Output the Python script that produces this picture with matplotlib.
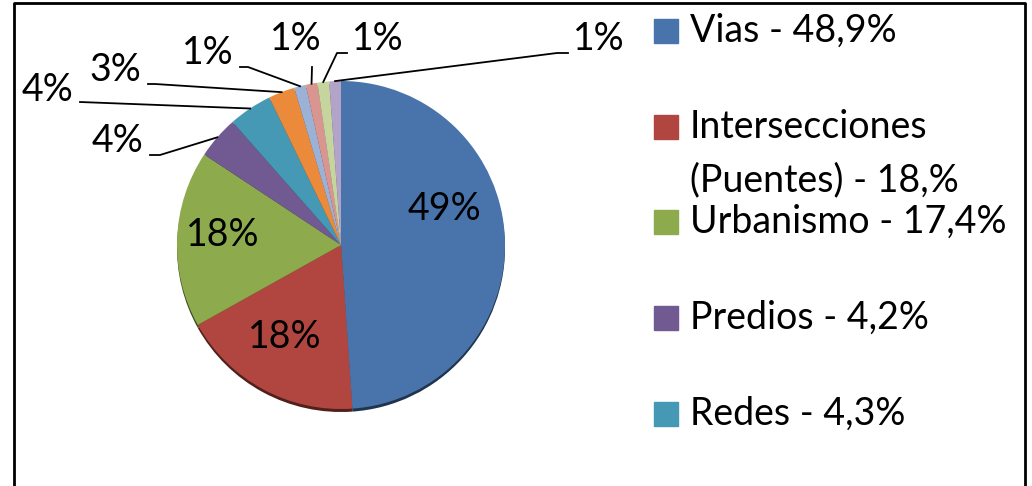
# grafico de torta - distribucion por componente
import numpy as np
import matplotlib.pyplot as plt
from matplotlib.colors import to_rgb

plt.rcParams['font.family'] = ['Lato', 'DejaVu Sans']

# datos
valores = [48.9, 18.0, 17.4, 4.2, 4.3, 2.6, 1.15, 1.15, 1.15, 1.15]
etiquetas = ['49%', '18%', '18%', '4%', '4%', '3%', '1%', '1%', '1%', '1%']
leyenda = ['Vias - 48,9%', 'Intersecciones\n(Puentes) - 18,%', 'Urbanismo - 17,4%',
           'Predios - 4,2%', 'Redes - 4,3%']
colores = ['#4874ab', '#b0463f', '#8dab4c', '#705a91', '#4599b4', '#ec8a3c',
           '#9bb1d6', '#d99590', '#c6d49e', '#b2a3c8']

H = 486
cx, cy, r = 341, 245, 164
fs = 27

fig = plt.figure(figsize=(10.32, 4.86), dpi=100)
ax = fig.add_axes([0, 0, 1, 1])

# borde oscuro abajo (efecto 3D)
oscuros = [tuple(c * 0.45 for c in to_rgb(col)) for col in colores]
ax.pie(valores, colors=oscuros, startangle=90, counterclock=False,
       center=(cx, H - cy - 3), radius=r, wedgeprops=dict(linewidth=0))
wedges, _ = ax.pie(valores, colors=colores, startangle=90, counterclock=False,
                   center=(cx, H - cy), radius=r, wedgeprops=dict(linewidth=0))

# etiquetas dentro
dentro = {0: (444, 209), 1: (285, 337), 2: (223, 235)}
for i, (x, y) in dentro.items():
    ax.text(x, H - y, etiquetas[i], ha='center', va='center', fontsize=fs, color='black')

# etiquetas fuera con lineas guia
fuera = {
    3: ((117, 141), [(150, 155), (160, 155)]),
    4: ((48, 90), [(80, 102)]),
    5: ((115, 70), [(148, 84), (155, 84)]),
    6: ((208, 53), [(240, 67), (248, 67)]),
    7: ((296, 39), [(312, 67)]),
    8: ((378, 39), [(347, 53), (337, 53)]),
    9: ((599, 39), [(568, 53), (557, 53)]),
}
for i, ((tx, ty), pts) in fuera.items():
    w = wedges[i]
    th = np.deg2rad((w.theta1 + w.theta2) / 2)
    ex = cx + r * np.cos(th)
    ey = (H - cy) + r * np.sin(th)
    xs = [p[0] for p in pts] + [ex]
    ys = [H - p[1] for p in pts] + [ey]
    ax.plot(xs, ys, color='black', lw=1.3)
    ax.text(tx, H - ty, etiquetas[i], ha='center', va='center', fontsize=fs, color='black')

# leyenda (solo se ven las primeras 5)
ley_y = [31, 127, 222, 318, 414]
for i, lab in enumerate(leyenda):
    y = ley_y[i]
    ax.add_patch(plt.Rectangle((654, H - y - 12), 24, 24, color=colores[i]))
    lineas = lab.split('\n')
    ax.text(690, H - y, lineas[0], ha='left', va='center', fontsize=fs)
    if len(lineas) > 1:
        ax.text(690, H - 180, lineas[1], ha='left', va='center', fontsize=fs)

# marco
ax.plot([14, 14, 1025, 1025], [-10, H - 3, H - 3, -10], color='black', lw=2, clip_on=False)

ax.set_xlim(0, 1032)
ax.set_ylim(0, H)
ax.axis('off')

fig.savefig('out.png', dpi=100)
